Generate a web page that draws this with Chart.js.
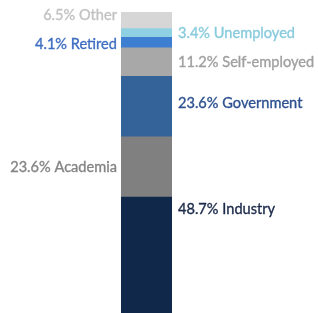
<!DOCTYPE html>
<html>
<head>
<meta charset="utf-8">
<script src="https://cdn.jsdelivr.net/npm/chart.js@4"></script>
<style>
  html, body { margin: 0; padding: 0; background: #ffffff; }
  #wrap { width: 318px; height: 313px; position: relative; }
</style>
</head>
<body>
<div id="wrap"><canvas id="c"></canvas></div>
<script>
// Data (bottom of stack first)
const categories = ['Employment'];
const segmentNames = ['Industry', 'Academia', 'Government', 'Self-employed', 'Retired', 'Unemployed', 'Other'];
const segmentValues = [48.7, 23.6, 23.6, 11.2, 4.1, 3.4, 6.5];

// Styles
const segmentColors = ['#10284a', '#808080', '#336399', '#a8a8a8', '#3f7fd2', '#8fd0e2', '#d6d6d6'];
const labelColors   = ['#1c2a4a', '#858585', '#2d5290', '#a0a0a0', '#3f6ec2', '#88cbdd', '#c2c2c2'];
const labelSide     = ['right', 'left', 'right', 'right', 'left', 'right', 'left'];
const labelDy       = [-50, 0, -3, 0, 2, 0, -5];

const datasets = segmentNames.map((name, i) => ({
  label: name,
  data: [segmentValues[i]],
  backgroundColor: segmentColors[i],
  borderWidth: 0,
  categoryPercentage: 1.0,
  barPercentage: 1.0
}));

const total = segmentValues.reduce((a, b) => a + b, 0);

const labelPlugin = {
  id: 'segLabels',
  afterDatasetsDraw(chart) {
    const ctx = chart.ctx;
    ctx.save();
    ctx.font = '14.6px Lato, "Open Sans", sans-serif';
    ctx.textBaseline = 'middle';
    ctx.lineWidth = 0.35;
    chart.data.datasets.forEach((ds, i) => {
      const el = chart.getDatasetMeta(i).data[0];
      const top = Math.min(el.y, el.base);
      const bot = Math.max(el.y, el.base);
      const cy = (top + bot) / 2;
      const half = el.width / 2;
      const text = segmentValues[i].toFixed(1) + '% ' + segmentNames[i];
      ctx.fillStyle = labelColors[i];
      ctx.strokeStyle = labelColors[i];
      let x;
      if (labelSide[i] === 'left') {
        ctx.textAlign = 'right';
        x = el.x - half - 4;
      } else {
        ctx.textAlign = 'left';
        x = el.x + half + 6;
      }
      ctx.fillText(text, x, cy + labelDy[i]);
      ctx.strokeText(text, x, cy + labelDy[i]);
    });
    ctx.restore();
  }
};

new Chart(document.getElementById('c'), {
  type: 'bar',
  data: { labels: categories, datasets },
  options: {
    responsive: true,
    maintainAspectRatio: false,
    animation: false,
    layout: { padding: { left: 121, right: 146, top: 12, bottom: 0 } },
    plugins: { legend: { display: false }, tooltip: { enabled: false } },
    scales: {
      x: { stacked: true, display: false },
      y: { stacked: true, display: false, min: 3.4, max: total }
    }
  },
  plugins: [labelPlugin]
});
</script>
</body>
</html>
